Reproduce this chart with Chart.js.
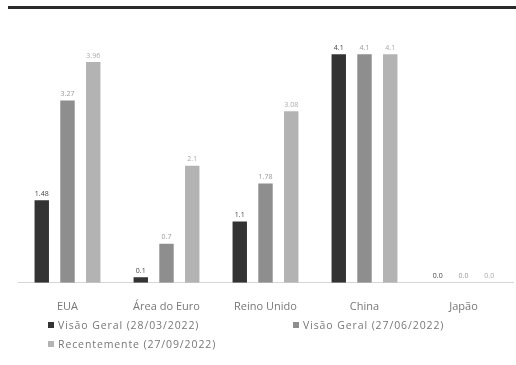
<!DOCTYPE html>
<html>
<head>
<meta charset="utf-8">
<script src="https://cdn.jsdelivr.net/npm/chart.js@4"></script>
<style>
  html, body { margin: 0; padding: 0; background: #fff; }
  #wrap { position: relative; width: 516px; height: 365px; overflow: hidden; }
  #topline { position: absolute; left: 8px; right: 0; top: 6px; height: 3px; background: #2a2a2a; }
  #legend { position: absolute; left: 48px; top: 318px; width: 460px;
    font-family: "Open Sans", sans-serif; font-size: 10.5px; letter-spacing: 0.9px; color: #777; }
  #legend span { position: absolute; white-space: nowrap; }
  #legend i { display: inline-block; width: 6px; height: 6px; margin-right: 4px; vertical-align: 1px; }
</style>
</head>
<body>
<div id="wrap">
  <div id="topline"></div>
  <canvas id="chart" width="516" height="365"></canvas>
  <div id="legend"></div>
</div>
<script>
// dados
const categorias = ["EUA", "Área do Euro", "Reino Unido", "China", "Japão"];
const visao0328 = [1.48, 0.1, 1.1, 4.1, 0.0];
const visao0627 = [3.27, 0.7, 1.78, 4.1, 0.0];
const recente0927 = [3.96, 2.1, 3.08, 4.1, 0.0];
const series = ["Visão Geral (28/03/2022)", "Visão Geral (27/06/2022)", "Recentemente (27/09/2022)"];
const cores = ["#333333", "#8e8e8e", "#b3b3b3"];
const coresRotulo = ["#444444", "#999999", "#aaaaaa"];

// rótulos de valor acima das barras
const rotulos = {
  id: "rotulos",
  afterDatasetsDraw(chart) {
    const ctx = chart.ctx;
    ctx.save();
    ctx.font = "7px 'Open Sans', sans-serif";
    ctx.textAlign = "center";
    ctx.textBaseline = "bottom";
    chart.data.datasets.forEach((ds, i) => {
      chart.getDatasetMeta(i).data.forEach((bar, j) => {
        const v = ds.data[j];
        ctx.fillStyle = coresRotulo[i];
        ctx.fillText(v.toFixed(String(v).length <= 3 ? 1 : 2), bar.x, bar.y - 3);
      });
    });
    ctx.restore();
  }
};

const chart = new Chart(document.getElementById("chart"), {
  type: "bar",
  data: {
    labels: categorias,
    datasets: [visao0328, visao0627, recente0927].map((d, i) => ({
      label: series[i],
      data: d,
      backgroundColor: cores[i],
      categoryPercentage: 0.78,
      barPercentage: 0.56,
    })),
  },
  options: {
    responsive: false,
    animation: false,
    layout: { padding: { left: 18, right: 3, top: 32, bottom: 35 } },
    plugins: { legend: { display: false }, tooltip: { enabled: false } },
    scales: {
      y: { display: false, min: 0, max: 4.5 },
      x: {
        grid: { display: false, drawTicks: false },
        border: { display: true, color: "#d6d6d6" },
        ticks: { padding: 17, color: "#777", font: { family: "'Open Sans', sans-serif", size: 11 } },
      },
    },
  },
  plugins: [rotulos],
});

// legenda
const pos = [[0, 0], [245, 0], [0, 19]];
const leg = document.getElementById("legend");
series.forEach((s, i) => {
  const el = document.createElement("span");
  el.style.left = pos[i][0] + "px";
  el.style.top = pos[i][1] + "px";
  el.innerHTML = '<i style="background:' + cores[i] + '"></i>' + s;
  leg.appendChild(el);
});
</script>
</body>
</html>
